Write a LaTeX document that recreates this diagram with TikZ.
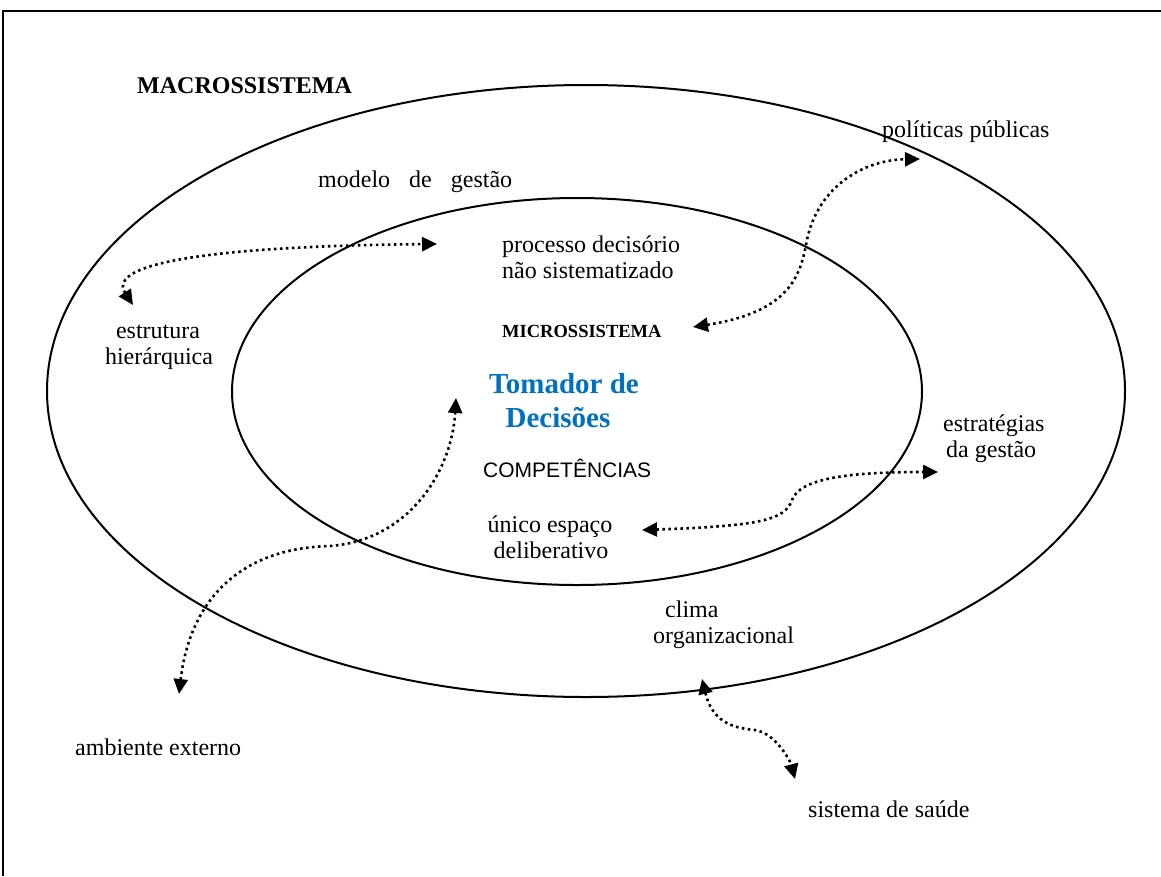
\documentclass[tikz,border=0pt]{standalone}
\usepackage{fontspec}
\setmainfont{Liberation Serif}
\newfontfamily\arialf{Liberation Sans}
\usetikzlibrary{arrows.meta}
\definecolor{tomblue}{RGB}{0,112,192}
\begin{document}
\begin{tikzpicture}[x=1pt,y=-1pt,
  lbl/.style={inner sep=0pt,anchor=base west,font=\fontsize{24}{26}\selectfont},
  clbl/.style={inner sep=0pt,anchor=base,font=\fontsize{24}{26}\selectfont},
  ring/.style={draw,line width=2pt},
  link/.style={line width=2.6pt,dash pattern=on 2.6pt off 3.4pt,
     {Triangle[length=15pt,width=14pt]}-{Triangle[length=15pt,width=14pt]}}]
\useasboundingbox (0,0) rectangle (1161,876);
% frame
\draw[line width=1.6pt] (3,876) -- (3,11) -- (1161,11);
% ellipses
\draw[ring] (586,391) ellipse [x radius=539, y radius=306];
\draw[ring] (577,391.5) ellipse [x radius=345, y radius=193.5];
% texts
\node[lbl,font=\fontsize{24}{26}\selectfont\bfseries] (macro) at (137,93) {MACROSSISTEMA};
\node[lbl] (modelo) at (318,187) {modelo\hspace{19pt}de\hspace{19pt}gestão};
\node[lbl] (proc1) at (502,252) {processo decisório};
\node[lbl] (proc2) at (502,278) {não sistematizado};
\node[lbl,font=\fontsize{18.5}{22}\selectfont\bfseries] (micro) at (502,337) {MICROSSISTEMA};
\node[clbl,font=\fontsize{29}{33}\selectfont\bfseries,text=tomblue] (tom1) at (564,393) {Tomador de};
\node[clbl,font=\fontsize{29}{33}\selectfont\bfseries,text=tomblue] (tom2) at (558,427) {Decisões};
\node[lbl,font=\fontsize{21}{24}\selectfont\arialf] (comp) at (483,477) {COMPETÊNCIAS};
\node[clbl] (unico1) at (550,532) {único espaço};
\node[clbl] (unico2) at (551,558) {deliberativo};
\node[clbl] (estr1) at (158,338) {estrutura};
\node[clbl] (estr2) at (159,364) {hierárquica};
\node[lbl] (pol) at (882,137) {políticas públicas};
\node[lbl] (estg1) at (943,431) {estratégias};
\node[lbl] (estg2) at (946,457) {da gestão};
\node[lbl] (clima1) at (665,617) {clima};
\node[lbl] (clima2) at (653,643) {organizacional};
\node[lbl] (amb) at (75,755) {ambiente externo};
\node[lbl] (sis) at (808,817) {sistema de saúde};
% arrow end points
\coordinate (eA) at (133,305);
\coordinate (pA) at (437,244);
\coordinate (mB) at (693,327);
\coordinate (pB) at (920,159);
\coordinate (uC) at (642,530);
\coordinate (sC) at (938,472);
\coordinate (aD) at (179,694);
\coordinate (tD) at (456,398);
\coordinate (cE) at (702,679);
\coordinate (sE) at (795,779);
% connectors
\draw[link] (eA) .. controls (105,262) and (220,246) .. (pA);
\draw[link] (mB) .. controls (790,312) and (800,275) .. (806,245)
             .. controls (815,190) and (860,160) .. (pB);
\draw[link] (uC) .. controls (760,526) and (785,520) .. (792,500)
             .. controls (800,478) and (850,472) .. (sC);
\draw[link] (aD) .. controls (190,600) and (240,548) .. (330,546)
             .. controls (410,540) and (452,470) .. (tD);
\draw[link] (cE) .. controls (712,720) and (730,728) .. (755,730)
             .. controls (775,733) and (790,760) .. (sE);
\end{tikzpicture}
\end{document}
